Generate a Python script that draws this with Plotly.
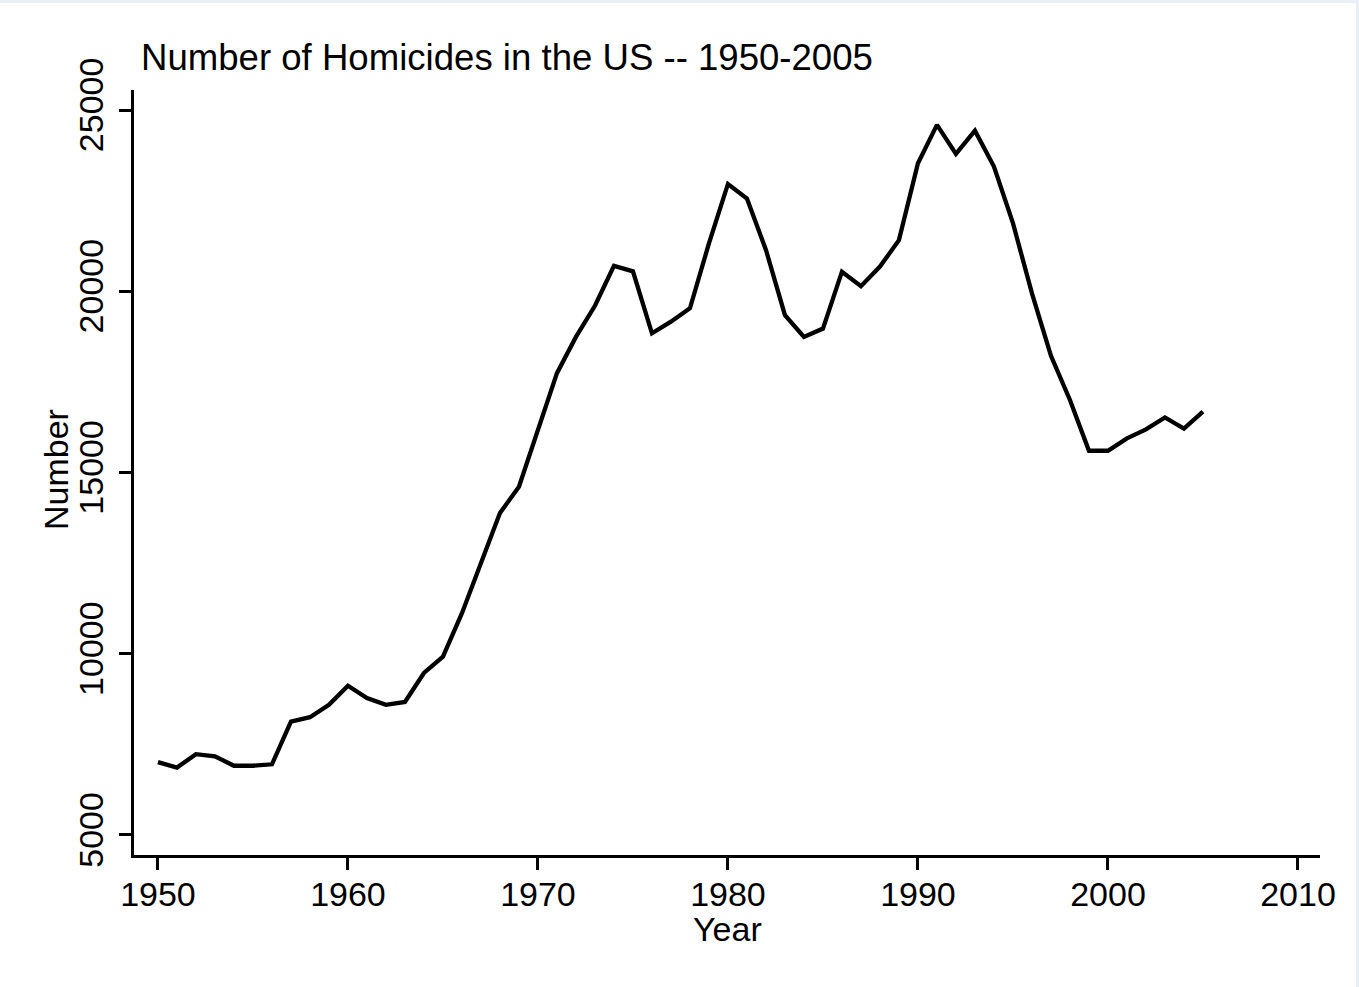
import plotly.graph_objects as go

years = list(range(1950, 2006))
homicides = [
    7010, 6860, 7230, 7170, 6910, 6910, 6950, 8130, 8250, 8590,
    9120, 8780, 8590, 8670, 9470, 9920, 11120, 12500, 13880, 14610,
    16170, 17740, 18740, 19600, 20700, 20550, 18840, 19160, 19530, 21320,
    22960, 22560, 21140, 19340, 18740, 18970, 20540, 20140, 20680, 21410,
    23530, 24590, 23790, 24430, 23440, 21880, 19940, 18220, 17000, 15600,
    15600, 15940, 16190, 16520, 16210, 16680,
]
x_ticks = [1950, 1960, 1970, 1980, 1990, 2000, 2010]
y_ticks = [5000, 10000, 15000, 20000, 25000]
y_tick_labels = ["5000", "10000", "15000", "20000", "25000"]

title_text = "Number of Homicides in the US -- 1950-2005"
x_label = "Year"
y_label = "Number"

FONT = "Liberation Sans, Arial, sans-serif"

fig = go.Figure()
fig.add_trace(go.Scatter(
    x=years, y=homicides, mode="lines",
    line=dict(color="black", width=4.3),
    hoverinfo="x+y", showlegend=False,
))

W, H = 1359, 987
L, R, T, B = 134, 39, 90, 132
pw, ph = W - L - R, H - T - B

fig.update_layout(
    width=W, height=H,
    margin=dict(l=L, r=R, t=T, b=B),
    paper_bgcolor="white", plot_bgcolor="white",
    font=dict(family=FONT, size=34, color="black"),
    showlegend=False,
)
fig.update_xaxes(
    range=[1948.74, 2011.16], tickvals=x_ticks,
    showgrid=False, zeroline=False,
    showline=True, linecolor="black", linewidth=3,
    ticks="outside", ticklen=12, tickwidth=3, tickcolor="black",
    ticklabelstandoff=-5,
    tickfont=dict(family=FONT, size=34, color="black"),
)
fig.update_yaxes(
    range=[4448, 25552], tickvals=y_ticks, ticktext=y_tick_labels,
    showgrid=False, zeroline=False,
    showline=True, linecolor="black", linewidth=3,
    ticks="outside", ticklen=12, tickwidth=3, tickcolor="black",
    tickangle=-90, ticklabelstandoff=2,
    tickfont=dict(family=FONT, size=34, color="black"),
)

fig.add_annotation(
    text=title_text, xref="paper", yref="paper",
    x=(139 - L) / pw, y=(H - B - 58) / ph,
    xanchor="left", yanchor="middle", showarrow=False,
    font=dict(family=FONT, size=36.6, color="black"),
)
fig.add_annotation(
    text=x_label, xref="paper", yref="paper",
    x=0.5, y=(H - B - 929) / ph,
    xanchor="center", yanchor="middle", showarrow=False,
    font=dict(family=FONT, size=34, color="black"),
)
fig.add_annotation(
    text=y_label, xref="paper", yref="paper",
    x=(56 - L) / pw, y=(H - B - 470) / ph,
    xanchor="center", yanchor="middle", showarrow=False, textangle=-90,
    font=dict(family=FONT, size=34, color="black"),
)

# thin light frame at the top and right edge of the image
fig.add_shape(type="rect", xref="paper", yref="paper",
              x0=(0 - L) / pw, x1=(W - L) / pw,
              y0=(H - B - 3) / ph, y1=(H - B) / ph,
              fillcolor="#e9eff3", line=dict(width=0), layer="below")
fig.add_shape(type="rect", xref="paper", yref="paper",
              x0=(1356 - L) / pw, x1=(W - L) / pw,
              y0=(H - B - H) / ph, y1=(H - B) / ph,
              fillcolor="#e9eff3", line=dict(width=0), layer="below")

fig.write_html(
    "out.html",
    config={"displayModeBar": False},
    post_script="document.body.style.margin='0';document.body.style.overflow='hidden';",
)
